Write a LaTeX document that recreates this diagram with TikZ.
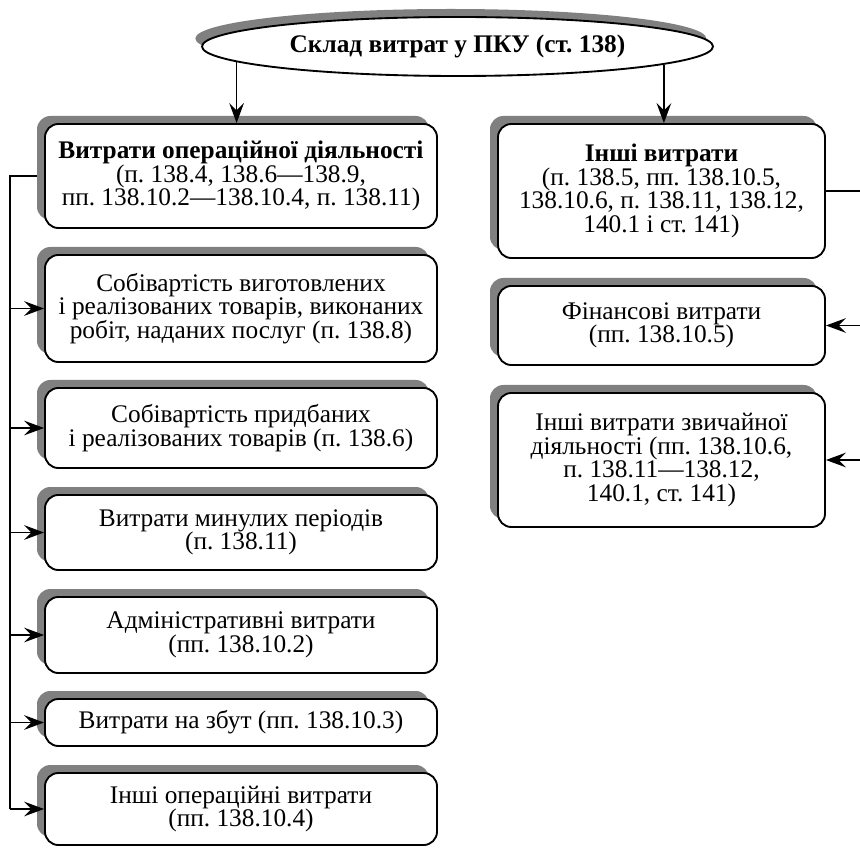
\documentclass[tikz,border=0pt]{standalone}
\usepackage{fontspec}
\setmainfont{Liberation Serif}
\usetikzlibrary{shapes.geometric,shadows,arrows.meta,backgrounds}
\definecolor{shade}{RGB}{128,128,128}
\frenchspacing
\begin{document}
\begin{tikzpicture}[x=0.75pt,y=-0.75pt,
  every node/.style={font=\fontsize{19pt}{17.7pt}\selectfont},
  shadowed/.style={drop shadow={shadow xshift=-6pt,shadow yshift=6pt,fill=shade,opacity=1}},
  card/.style={draw,line width=1.4pt,rounded corners=10pt,fill=white,align=center,
    inner sep=0pt,shadowed},
  lcard/.style={card,minimum width=294pt},
  rcard/.style={card,minimum width=245.25pt},
  link/.style={line width=1.2pt},
  arr/.style={link,-{Stealth[length=15pt,width=11pt,inset=5.5pt]}}]
\useasboundingbox (0,0) rectangle (860,848);

% heading
\node[ellipse,draw,line width=1.4pt,fill=white,inner sep=0pt,
  minimum width=383.25pt,minimum height=44.25pt,
  drop shadow={shadow xshift=-5pt,shadow yshift=6pt,fill=shade,opacity=1}]
  (top) at (457.5,46.5) {\textbf{Склад витрат у ПКУ (ст. 138)}};

% left column
\node[lcard,minimum height=78pt] (L1) at (241,176)
  {\textbf{Витрати операційної діяльності}\\(п. 138.4, 138.6—138.9,\\пп. 138.10.2—138.10.4, п. 138.11)};
\node[lcard,minimum height=80.25pt] (L2) at (241,308.5)
  {Собівартість виготовлених\\і реалізованих товарів, виконаних\\робіт, наданих послуг (п. 138.8)};
\node[lcard,minimum height=60pt] (L3) at (241,428)
  {Собівартість придбаних\\і реалізованих товарів (п. 138.6)};
\node[lcard,minimum height=56.25pt] (L4) at (241,532.5)
  {Витрати минулих періодів\\(п. 138.11)};
\node[lcard,minimum height=57pt] (L5) at (241,635)
  {Адміністративні витрати\\(пп. 138.10.2)};
\node[lcard,minimum height=35.25pt] (L6) at (241,722.5)
  {Витрати на збут (пп. 138.10.3)};
\node[lcard,minimum height=54pt] (L7) at (241,809)
  {Інші операційні витрати\\(пп. 138.10.4)};

% right column
\node[rcard,minimum height=100.5pt] (R1) at (661.5,191)
  {\textbf{Інші витрати}\\(п. 138.5, пп. 138.10.5,\\138.10.6, п. 138.11, 138.12,\\140.1 і ст. 141)};
\node[rcard,minimum height=59.25pt] (R2) at (661.5,325.5)
  {Фінансові витрати\\(пп. 138.10.5)};
\node[rcard,minimum height=100.5pt] (R3) at (661.5,460)
  {Інші витрати звичайної\\діяльності (пп. 138.10.6,\\п. 138.11—138.12,\\140.1, ст. 141)};

% connectors from the heading
\draw[arr] (top.184.19) -- (top.184.19 |- L1.north);
\draw[arr] (top.355.05) -- (top.355.05 |- R1.north);

% left trunk
\coordinate (lt) at (10,0);
\begin{scope}[on background layer]
  \draw[link] (L1.west) -- (L1.west -| lt) -- (L7.west -| lt);
\end{scope}
\foreach \n in {L2,L3,L4,L5,L6,L7}
  \draw[arr] (\n.west -| lt) -- (\n.west);

% right trunk
\coordinate (rt) at (860,0);
\draw[link] (R1.east) -- (R1.east -| rt);
\foreach \n in {R2,R3}
  \draw[arr] (\n.east -| rt) -- (\n.east);
\end{tikzpicture}
\end{document}
